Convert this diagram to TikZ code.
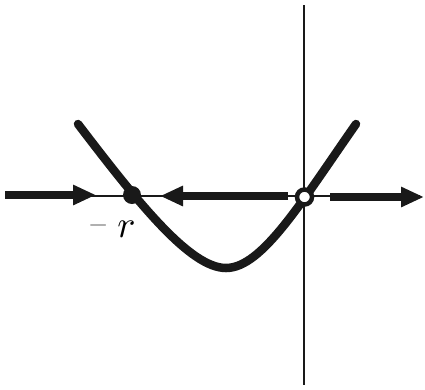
\documentclass[tikz,border=0pt]{standalone}
\usetikzlibrary{arrows.meta}
\usepackage{graphicx}
\begin{document}
\begin{tikzpicture}[x=1pt,y=-1pt,
  axisline/.style={line width=2pt,black!90},
  curveline/.style={line width=8.5pt,line cap=round,black!90},
  flowarrow/.style={line width=8.5pt,black!90,-{Triangle[length=23pt,width=19pt]}},
  stabledot/.style={circle,fill=black!90,minimum size=18pt,inner sep=0pt},
  unstabledot/.style={circle,draw=black!90,line width=4.5pt,fill=white,minimum size=15pt,inner sep=0pt}]
\useasboundingbox (0,0) rectangle (425,389);
% axes
\coordinate (hl) at (5,196);
\coordinate (hr) at (420,196);
\coordinate (vt) at (304,5);
\coordinate (vb) at (304,385);
\draw[axisline] (hl) -- (hr);
\draw[axisline] (vt) -- (vb);
% curve
\coordinate (cl) at (78,124);
\coordinate (cm) at (226,268);
\coordinate (cr) at (356,124);
\draw[curveline] (cl) .. controls (138,202.6) and (190,268) .. (cm)
  .. controls (262,268) and (301,202.6) .. (cr);
% flow arrows
\coordinate (a1s) at (5,195);
\coordinate (a1e) at (96,195);
\coordinate (a2s) at (288,196);
\coordinate (a2e) at (160,196);
\coordinate (a3s) at (330,197);
\coordinate (a3e) at (424,197);
\draw[flowarrow] (a1s) -- (a1e);
\draw[flowarrow] (a2s) -- (a2e);
\draw[flowarrow] (a3s) -- (a3e);
% fixed points
\node[stabledot] (stable) at (132,195) {};
\node[unstabledot] (unstable) at (304.5,197) {};
% label
\node[anchor=base west,inner sep=0pt] (lbl) at (88,237)
  {\raisebox{8pt}{\scalebox{2.6}[1.6]{$-$}}\hspace{9pt}\scalebox{3.8}{$r$}};
\end{tikzpicture}
\end{document}
